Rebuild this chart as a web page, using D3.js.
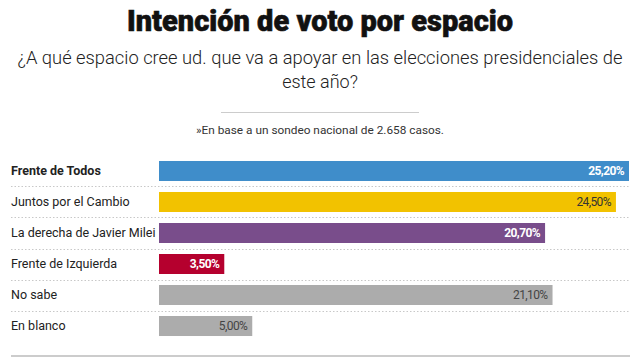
<!DOCTYPE html>
<html><head><meta charset="utf-8">
<script src="https://cdn.jsdelivr.net/npm/d3@7"></script>
<style>body{margin:0;background:#fff}svg{display:block}</style>
</head><body>
<script>
const categories = ["Frente de Todos","Juntos por el Cambio","La derecha de Javier Milei","Frente de Izquierda","No sabe","En blanco"];
const values = [25.2, 24.5, 20.7, 3.5, 21.1, 5.0];
const colors = ["#3f8dca","#f2c200","#794d8b","#b5002e","#acacac","#acacac"];
const labelColors = ["#fff","#333","#fff","#fff","#444","#444"];
const title = "Intención de voto por espacio";
const subtitle1 = "¿A qué espacio cree ud. que va a apoyar en las elecciones presidenciales de";
const subtitle2 = "este año?";
const note = "»En base a un sondeo nacional de 2.658 casos.";

const W = 639, H = 357;
const svg = d3.select("body").append("svg").attr("width", W).attr("height", H);

svg.append("text").attr("x", 320).attr("y", 31).attr("text-anchor","middle")
  .attr("font-family","Roboto, sans-serif").attr("font-weight", 900).attr("font-size", 29)
  .attr("fill","#111").attr("stroke","#111").attr("stroke-width",0.6)
  .attr("textLength", 386).attr("lengthAdjust","spacingAndGlyphs").text(title);
svg.append("text").attr("x", 320).attr("y", 64).attr("text-anchor","middle")
  .attr("font-family","Roboto, sans-serif").attr("font-weight", 300).attr("font-size", 18)
  .attr("fill","#222").attr("textLength", 605).attr("lengthAdjust","spacingAndGlyphs").text(subtitle1);
svg.append("text").attr("x", 320).attr("y", 88).attr("text-anchor","middle")
  .attr("font-family","Roboto, sans-serif").attr("font-weight", 300).attr("font-size", 18)
  .attr("fill","#222").text(subtitle2);
svg.append("line").attr("x1",221).attr("x2",419).attr("y1",112.5).attr("y2",112.5)
  .attr("stroke","#ccc").attr("stroke-width",1);
svg.append("text").attr("x", 320).attr("y", 134).attr("text-anchor","middle")
  .attr("font-family","Roboto, sans-serif").attr("font-size", 11.5)
  .attr("fill","#333").attr("textLength", 248).attr("lengthAdjust","spacingAndGlyphs").text(note);

const x = d3.scaleLinear().domain([0, 25.2]).range([159, 629]);
const y = d3.scaleBand().domain(categories).range([155.5, 341.5]).paddingInner(0.355).paddingOuter(0.177);

const g = svg.append("g");
categories.slice(0, -1).forEach((c, i) => {
  const yy = y(c) + y.bandwidth() + y.step()*y.paddingInner()/2;
  g.append("line").attr("x1", 11).attr("x2", 629).attr("y1", Math.round(yy)+0.5).attr("y2", Math.round(yy)+0.5)
    .attr("stroke","#c8c8c8").attr("stroke-dasharray","1.5,2");
});
g.selectAll("rect.bar").data(categories).join("rect").attr("class","bar")
  .attr("x", x(0)).attr("y", d => y(d)).attr("height", y.bandwidth())
  .attr("width", (d,i) => x(values[i]) - x(0)).attr("fill", (d,i) => colors[i]);
g.selectAll("text.cat").data(categories).join("text").attr("class","cat")
  .attr("x", 11).attr("y", d => y(d) + y.bandwidth()/2).attr("dy","0.35em")
  .attr("font-family","Roboto, sans-serif").attr("font-size", 12.5)
  .attr("font-weight", (d,i) => i === 0 ? 700 : 400).attr("fill","#222").text(d => d);
g.selectAll("text.val").data(categories).join("text").attr("class","val")
  .attr("x", (d,i) => x(values[i]) - 5).attr("y", d => y(d) + y.bandwidth()/2).attr("dy","0.35em")
  .attr("text-anchor","end").attr("font-family","Roboto, sans-serif").attr("font-size", 12)
  .attr("letter-spacing", -0.6)
  .attr("font-weight", (d,i) => labelColors[i] === "#fff" ? 700 : 400)
  .attr("fill", (d,i) => labelColors[i])
  .text((d,i) => d3.format(".2f")(values[i]).replace(".", ",") + "%");

svg.append("line").attr("x1", 11).attr("x2", 630).attr("y1", 356).attr("y2", 356)
  .attr("stroke","#ccc").attr("stroke-width", 2);
</script>
</body></html>
